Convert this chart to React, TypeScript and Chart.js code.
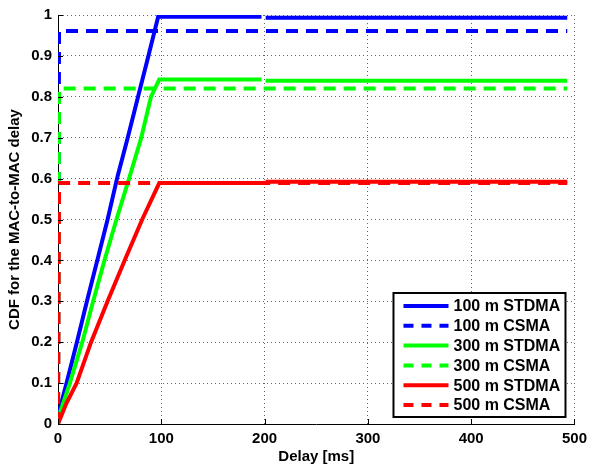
import React, { useEffect, useRef } from "react";
import { Chart, registerables } from "chart.js";

Chart.register(...registerables);

// Delay [ms] / CDF samples
const stdma100Delay = [0, 1, 8.3, 18.3, 28, 38, 48, 57.7, 67.5, 77.5, 87.5, 97, 197, 199, 201, 493];
const stdma100Cdf = [0, 0.03, 0.1, 0.2, 0.3, 0.4, 0.5, 0.606, 0.7, 0.8, 0.9, 0.996, 0.996, null, 0.993, 0.993];

const csma100Delay = [0, 1, 493];
const csma100Cdf = [0, 0.961, 0.961];

const stdma300Delay = [0, 1, 11.5, 23.5, 34, 45, 56.6, 69.5, 80.6, 90, 98, 197, 199, 201, 493];
const stdma300Cdf = [0, 0.02, 0.1, 0.2, 0.3, 0.4, 0.5, 0.606, 0.7, 0.8, 0.842, 0.842, null, 0.839, 0.839];

const csma300Delay = [0, 1, 493];
const csma300Cdf = [0, 0.82, 0.82];

const stdma500Delay = [0, 8, 18, 32, 48, 64.5, 81.5, 98, 197, 199, 201, 493];
const stdma500Cdf = [0, 0.05, 0.1, 0.2, 0.3, 0.4, 0.5, 0.589, 0.589, null, 0.592, 0.592];

const csma500Delay = [0, 1, 493];
const csma500Cdf = [0, 0.589, 0.589];

const seriesLabels = ["100 m STDMA", "100 m CSMA", "300 m STDMA", "300 m CSMA", "500 m STDMA", "500 m CSMA"];
const seriesColors = ["#0000ff", "#0000ff", "#00ff00", "#00ff00", "#ff0000", "#ff0000"];
const seriesDashed = [false, true, false, true, false, true];

const xTicks = [0, 100, 200, 300, 400, 500];
const yTicks = [0, 0.1, 0.2, 0.3, 0.4, 0.5, 0.6, 0.7, 0.8, 0.9, 1];

const FONT = "'Liberation Sans', Arial, Helvetica, sans-serif";
const DASH = [12, 8];

function pts(xs: number[], ys: (number | null)[]) {
  return xs.map((x, i) => ({ x, y: ys[i] }));
}

const tickPlugin = {
  id: "inwardTicks",
  afterDraw(chart: any) {
    const { ctx, chartArea, scales } = chart;
    ctx.save();
    ctx.strokeStyle = "#000";
    ctx.lineWidth = 1;
    xTicks.forEach((v) => {
      const px = Math.round(scales.x.getPixelForValue(v)) + 0.5;
      ctx.beginPath();
      ctx.moveTo(px, chartArea.bottom);
      ctx.lineTo(px, chartArea.bottom - 5);
      ctx.stroke();
    });
    yTicks.forEach((v) => {
      const py = Math.round(scales.y.getPixelForValue(v)) + 0.5;
      ctx.beginPath();
      ctx.moveTo(chartArea.left, py);
      ctx.lineTo(chartArea.left + 5, py);
      ctx.stroke();
    });
    ctx.restore();
  },
};

const legendPlugin = {
  id: "boxLegend",
  afterDraw(chart: any) {
    const { ctx, chartArea } = chart;
    const w = 172;
    const h = 124;
    const right = chartArea.right - 9;
    const bottom = chartArea.bottom - 7;
    const left = right - w;
    const top = bottom - h;
    ctx.save();
    ctx.fillStyle = "#fff";
    ctx.fillRect(left, top, w, h);
    ctx.strokeStyle = "#000";
    ctx.lineWidth = 2;
    ctx.strokeRect(left, top, w, h);
    const rowH = 19.8;
    ctx.font = `bold 16px ${FONT}`;
    ctx.textBaseline = "middle";
    ctx.textAlign = "left";
    seriesLabels.forEach((label, i) => {
      const y = top + 13 + i * rowH;
      ctx.beginPath();
      ctx.strokeStyle = seriesColors[i];
      ctx.lineWidth = 4;
      ctx.setLineDash(seriesDashed[i] ? [10, 8] : []);
      ctx.moveTo(left + 10, y);
      ctx.lineTo(left + 55, y);
      ctx.stroke();
      ctx.setLineDash([]);
      ctx.fillStyle = "#000";
      ctx.fillText(label, left + 60, y + 1);
    });
    ctx.restore();
  },
};

export default function App() {
  const ref = useRef<HTMLCanvasElement>(null);
  useEffect(() => {
    if (!ref.current) return;
    const allX = [stdma100Delay, csma100Delay, stdma300Delay, csma300Delay, stdma500Delay, csma500Delay];
    const allY = [stdma100Cdf, csma100Cdf, stdma300Cdf, csma300Cdf, stdma500Cdf, csma500Cdf];
    const chart = new Chart(ref.current, {
      type: "line",
      data: {
        datasets: seriesLabels.map((label, i) => ({
          label,
          data: pts(allX[i], allY[i] as any),
          borderColor: seriesColors[i],
          backgroundColor: seriesColors[i],
          borderWidth: 4,
          borderDash: seriesDashed[i] ? DASH : [],
          pointRadius: 0,
          tension: 0,
          spanGaps: false,
          fill: false,
          order: -i,
        })),
      },
      options: {
        animation: false,
        responsive: false,
        maintainAspectRatio: false,
        layout: { padding: { top: 13, right: 14, left: 0, bottom: 0 } },
        plugins: { legend: { display: false }, tooltip: { enabled: false } },
        scales: {
          x: {
            type: "linear",
            min: 0,
            max: 500,
            afterFit: (s: any) => {
              s.height = 41;
            },
            afterBuildTicks: (s: any) => {
              s.ticks = xTicks.map((v) => ({ value: v }));
            },
            ticks: {
              color: "#000",
              font: { family: FONT, size: 15, weight: "bold" },
              padding: 6,
              maxRotation: 0,
              callback: (v: any) => String(v),
            },
            grid: {
              color: "#666",
              lineWidth: 1,
              drawTicks: false,
            },
            border: { display: true, color: "#000", width: 1, dash: [1, 3] },
            title: {
              display: true,
              text: "Delay [ms]",
              color: "#000",
              font: { family: FONT, size: 15, weight: "bold", lineHeight: 1 },
              padding: { top: 0, bottom: 1 },
            },
          },
          y: {
            type: "linear",
            min: 0,
            max: 1,
            afterFit: (s: any) => {
              s.width = 58;
            },
            afterBuildTicks: (s: any) => {
              s.ticks = yTicks.map((v) => ({ value: v }));
            },
            ticks: {
              color: "#000",
              font: { family: FONT, size: 15, weight: "bold" },
              padding: 6,
              callback: (v: any) => String(Math.round(Number(v) * 10) / 10),
            },
            grid: {
              color: "#666",
              lineWidth: 1,
              drawTicks: false,
            },
            border: { display: true, color: "#000", width: 1, dash: [1, 3] },
            title: {
              display: true,
              text: "CDF for the MAC-to-MAC delay",
              color: "#000",
              font: { family: FONT, size: 15, weight: "bold", lineHeight: 1.2 },
              padding: { top: 6, bottom: 0 },
            },
          },
        },
      },
      plugins: [tickPlugin, legendPlugin],
    } as any);
    return () => chart.destroy();
  }, []);

  return (
    <div style={{ position: "fixed", left: 0, top: 0, width: 593, height: 465, background: "#fff" }}>
      <canvas ref={ref} width={593} height={465} style={{ width: 593, height: 465 }} />
    </div>
  );
}
